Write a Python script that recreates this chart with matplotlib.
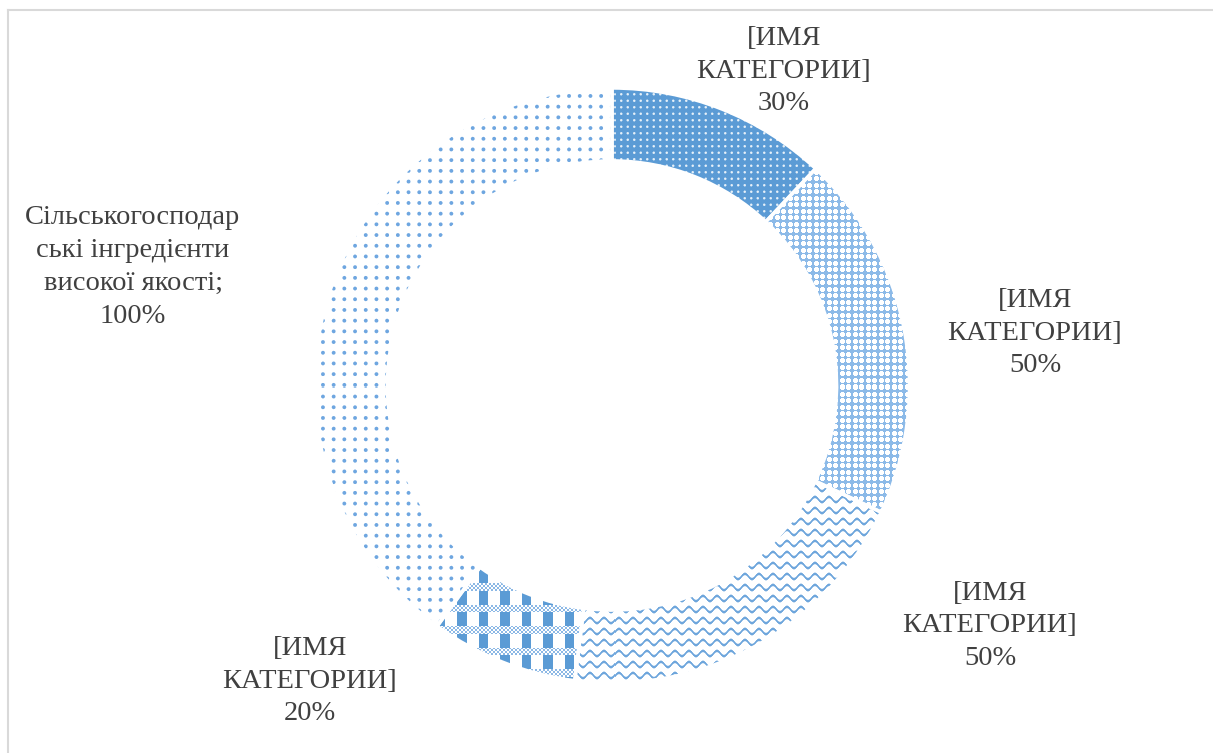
import numpy as np
import matplotlib
matplotlib.use("Agg")
import matplotlib.pyplot as plt
from matplotlib.lines import Line2D

# ---- data ----
categories = ["[ИМЯ\nКАТЕГОРИИ]", "[ИМЯ\nКАТЕГОРИИ]", "[ИМЯ\nКАТЕГОРИИ]",
              "[ИМЯ\nКАТЕГОРИИ]", "Сільськогосподар\nські інгредієнти\nвисокої якості;"]
values = [30, 50, 50, 20, 100]

W, H = 1213, 753
fig = plt.figure(figsize=(W / 100, H / 100), dpi=100)
fig.patch.set_facecolor("white")

# donut axes: centre (612,385) px, outer radius ~297.5 px
R_px = 297.5
cx, cy = 612, 385.5
s = 1.1
half = R_px * s
ax = fig.add_axes([(cx - half) / W, (H - cy - half) / H, 2 * half / W, 2 * half / H])

wedges, _ = ax.pie(values, startangle=90, counterclock=False, radius=1.0,
                   wedgeprops=dict(width=0.245, facecolor="none", edgecolor="white",
                                   linewidth=2.5))
ax.set_xlim(-s, s)
ax.set_ylim(-s, s)
ax.set_aspect("equal")
ax.axis("off")

# ---- textures ----
N = int(round(2 * half))
ii, jj = np.indices((N, N)).astype(float)

def blend(base, top, t):
    base = np.array(base, float) / 255
    top = np.array(top, float) / 255
    t = t[..., None]
    return base * (1 - t) + top * t

def grid_dist(a, b, sp, offset=0.0):
    da = ((a + offset) % sp) - sp / 2
    db = ((b + offset) % sp) - sp / 2
    return da, db

white = (255, 255, 255)
blue = (91, 155, 213)

# 1 dense white dots on blue
da, db = grid_dist(ii, jj, 6.5)
d = np.sqrt(da ** 2 + db ** 2)
tex1 = blend(blue, white, np.clip(1.7 - d, 0, 1) * 0.85)

# 2 white crosses on light blue
da, db = grid_dist(ii, jj, 6.5)
cross = ((np.abs(da) < 1.3) & (np.abs(db) < 2.7)) | ((np.abs(db) < 1.3) & (np.abs(da) < 2.7))
tex2 = blend((140, 186, 232), white, cross.astype(float))

# 3 waves
yl = ii - 2.6 * np.sin(2 * np.pi * jj / 14.0)
m = yl % 11.0
dd = np.minimum(m, 11.0 - m)
tex3 = blend(white, (110, 166, 220), np.clip(1.8 - dd, 0, 1))

# 4 plaid
bar = ((jj % 21.5) < 9.5).astype(float)
tex4 = blend(white, blue, bar)
band = ((ii % 21.5) > 7.5) & ((ii % 21.5) < 15.5)
chk = (((np.floor(ii / 2) + np.floor(jj / 2)) % 2) == 0)
bandcol = blend(white, (120, 172, 225), chk.astype(float) * 0.85)
tex4[band] = bandcol[band]

# 5 sparse dots
da, db = grid_dist(ii, jj, 10.7)
d = np.sqrt(da ** 2 + db ** 2)
tex5 = blend(white, (110, 166, 224), np.clip(2.4 - d, 0, 1))

textures = [tex1, tex2, tex3, tex4, tex5]
for w, tex in zip(wedges, textures):
    im = ax.imshow(tex, extent=[-s, s, -s, s], origin="upper", interpolation="nearest", zorder=1)
    im.set_clip_path(w)
    w.set_zorder(3)
ax.set_xlim(-s, s)
ax.set_ylim(-s, s)

# ---- labels ----
label_pos = [(784, 71), (1035, 333), (990, 626), (310, 681), (133, 267)]
for (lx, ly), cat, v in zip(label_pos, categories, values):
    fig.text(lx / W, 1 - ly / H, f"{cat}\n{v}%", ha="center", va="center",
             multialignment="center", fontsize=20.5, family="Liberation Serif",
             color="#404040", linespacing=1.41)

# ---- frame (top & left edges visible) ----
fig.add_artist(Line2D([7.5 / W, 1], [1 - 10 / H, 1 - 10 / H], color="#D9D9D9", lw=1.5,
                      transform=fig.transFigure))
fig.add_artist(Line2D([7.5 / W, 7.5 / W], [0, 1 - 10 / H], color="#D9D9D9", lw=1.5,
                      transform=fig.transFigure))

fig.savefig("out.png", dpi=100, facecolor="white")
